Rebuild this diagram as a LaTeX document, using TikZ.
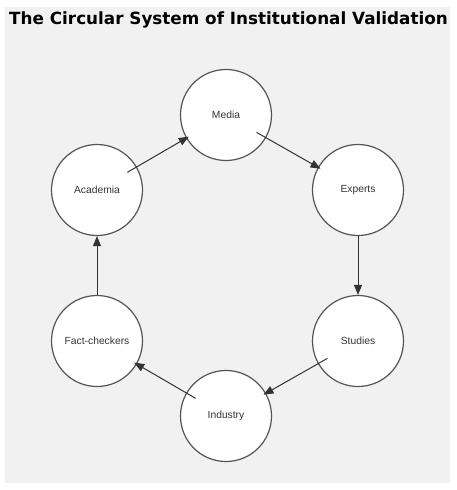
\documentclass[tikz,border=0pt]{standalone}
\usepackage{fontspec}
\setmainfont{Liberation Sans}
\newfontfamily\titlefont{DejaVu Sans}
\usetikzlibrary{arrows.meta}
\definecolor{panel}{HTML}{F1F1F1}
\definecolor{ring}{HTML}{555555}
\definecolor{ink}{HTML}{333333}
\tikzset{
  stage/.style={circle, draw=ring, line width=1.2pt, fill=white, minimum size=91pt, inner sep=0pt, font=\fontsize{10.3}{12}\selectfont, text=ink},
  flow/.style={draw=ink, line width=1pt, -{Triangle[length=10pt,width=8pt]}},
  diag/.style={flow, shorten <=-11pt, shorten >=-3pt}
}
\begin{document}
\begin{tikzpicture}[x=1pt,y=-1pt]
\useasboundingbox (0,0) rectangle (456,490);
\fill[white] (0,0) rectangle (456,490);
\fill[panel] (5,7) rectangle (450,483);
\node[font=\titlefont\bfseries\fontsize{16.8}{19}\selectfont, text=black] (title) at (228.5,20) {The Circular System of Institutional Validation};
\node[stage] (media) at (226,115) {Media};
\node[stage] (experts) at (358,190) {Experts};
\node[stage] (studies) at (358,341) {Studies};
\node[stage] (industry) at (226,416) {Industry};
\node[stage] (fact) at (97,341) {Fact-checkers};
\node[stage] (academia) at (97,190) {Academia};
\draw[diag] (academia) -- (media);
\draw[diag] (media) -- (experts);
\draw[flow] (experts) -- (studies);
\draw[diag] (studies) -- (industry);
\draw[diag] (industry) -- (fact);
\draw[flow] (fact) -- (academia);
\end{tikzpicture}
\end{document}
